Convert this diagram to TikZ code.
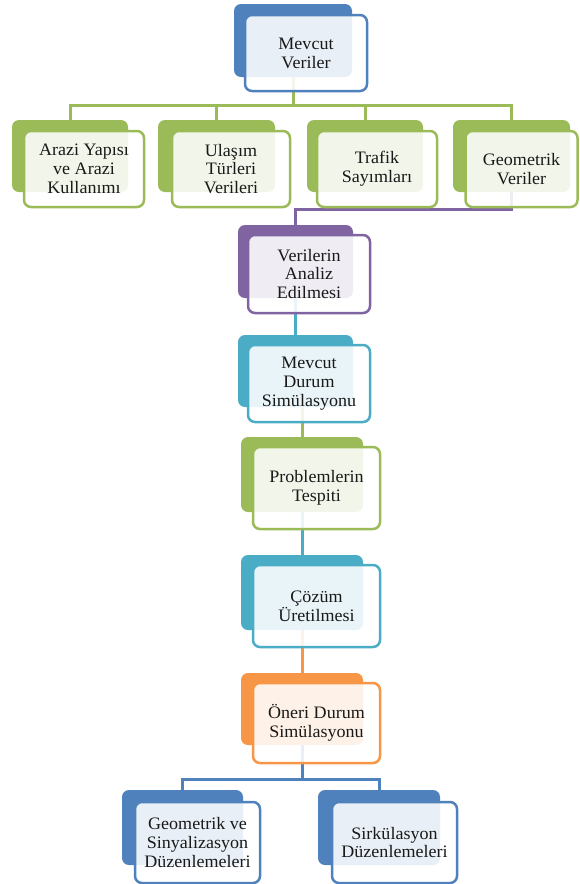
\documentclass[tikz,border=0pt]{standalone}
\usepackage{fontspec}
\setmainfont{Liberation Serif}[FakeStretch=1.03]
\usetikzlibrary{backgrounds}

\definecolor{cblue}{HTML}{4F81BD}
\definecolor{cgreen}{HTML}{9BBB59}
\definecolor{cpurple}{HTML}{8064A2}
\definecolor{cteal}{HTML}{4BACC6}
\definecolor{corange}{HTML}{F79646}

\tikzset{
  back/.style={fill=#1, draw=none, rounded corners=7pt, inner sep=0pt},
  front/.style={draw=#1, fill=white, fill opacity=0.88, text opacity=1,
    line width=2.5pt, rounded corners=7pt, align=center, inner sep=0pt,
    text=black!90, font=\fontsize{17.5}{18.8}\selectfont},
  conn/.style={draw=#1, line width=3pt}
}

\begin{document}
\begin{tikzpicture}[x=1pt,y=-1pt]
\useasboundingbox (0,0) rectangle (579,884);

% top
\node[back=cblue, minimum width=118pt, minimum height=73pt] (veri) at (293,40.5) {};
\node[front=cblue, minimum width=122pt, minimum height=76pt] (veriF) at (306,53) {Mevcut\\Veriler};

% second row
\node[back=cgreen, minimum width=116pt, minimum height=72pt] (arazi) at (70,156) {};
\node[front=cgreen, minimum width=120pt, minimum height=76pt] (araziF) at (84,169) {Arazi Yapısı\\ve Arazi\\Kullanımı};
\node[back=cgreen, minimum width=117pt, minimum height=72pt] (ulasim) at (216.5,156) {};
\node[front=cgreen, minimum width=118pt, minimum height=76pt] (ulasimF) at (231,169) {Ulaşım\\Türleri\\Verileri};
\node[back=cgreen, minimum width=116pt, minimum height=72pt] (trafik) at (365,156) {};
\node[front=cgreen, minimum width=120pt, minimum height=76pt] (trafikF) at (377,169) {Trafik\\Sayımları};
\node[back=cgreen, minimum width=117pt, minimum height=72pt] (geo) at (511.5,156) {};
\node[front=cgreen, minimum width=112pt, minimum height=76pt] (geoF) at (521.5,169) {Geometrik\\Veriler};

% chain
\node[back=cpurple, minimum width=115pt, minimum height=73pt] (analiz) at (295.5,261.5) {};
\node[front=cpurple, minimum width=122pt, minimum height=78pt] (analizF) at (309,274) {Verilerin\\Analiz\\Edilmesi};
\node[back=cteal, minimum width=115pt, minimum height=72pt] (mevcut) at (295.5,371) {};
\node[front=cteal, minimum width=122pt, minimum height=77pt] (mevcutF) at (309,383.5) {Mevcut\\Durum\\Simülasyonu};
\node[back=cgreen, minimum width=122pt, minimum height=75pt] (problem) at (302,474.5) {};
\node[front=cgreen, minimum width=127pt, minimum height=82pt] (problemF) at (316.5,488) {Problemlerin\\Tespiti};
\node[back=cteal, minimum width=122pt, minimum height=75pt] (cozum) at (302,592.5) {};
\node[front=cteal, minimum width=127pt, minimum height=82pt] (cozumF) at (316.5,606) {Çözüm\\Üretilmesi};
\node[back=corange, minimum width=122pt, minimum height=72pt] (oneri) at (302,709) {};
\node[front=corange, minimum width=127pt, minimum height=80pt] (oneriF) at (316.5,723) {Öneri Durum\\Simülasyonu};

% bottom row
\node[back=cblue, minimum width=121pt, minimum height=75pt] (geosin) at (182.5,827.5) {};
\node[front=cblue, minimum width=125pt, minimum height=81pt] (geosinF) at (197.5,842.5) {Geometrik ve\\Sinyalizasyon\\Düzenlemeleri};
\node[back=cblue, minimum width=122pt, minimum height=75pt] (sirk) at (379,827.5) {};
\node[front=cblue, minimum width=125pt, minimum height=81pt] (sirkF) at (394.5,842.5) {Sirkülasyon\\Düzenlemeleri};

\coordinate (busA) at (0,105);
\coordinate (busB) at (0,209);
\coordinate (busC) at (0,779);

\begin{pgfonlayer}{background}
\draw[conn=cgreen] (veri) -- (veri |- busA);
\draw[conn=cgreen] (arazi) |- (geo |- busA) -- (geo);
\draw[conn=cgreen] (ulasim) -- (ulasim |- busA);
\draw[conn=cgreen] (trafik) -- (trafik |- busA);
\draw[conn=cpurple] (geo) |- (analiz |- busB) -- (analiz);
\draw[conn=cteal] (analiz) -- (mevcut);
\draw[conn=cgreen] (problem) -- (problem |- mevcut);
\draw[conn=cteal] (problem) -- (cozum);
\draw[conn=corange] (cozum) -- (oneri);
\draw[conn=cblue] (oneri) -- (oneri |- busC);
\draw[conn=cblue] (geosin) |- (oneri |- busC) -| (sirk);
\end{pgfonlayer}
\end{tikzpicture}
\end{document}
